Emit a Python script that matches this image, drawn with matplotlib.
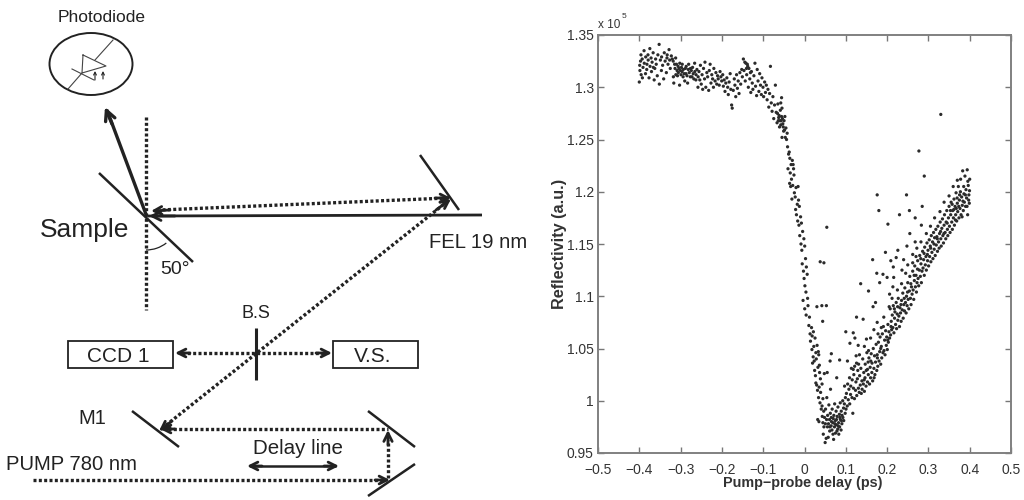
import matplotlib
matplotlib.use('Agg')
import matplotlib.pyplot as plt
from matplotlib.patches import Ellipse, Rectangle, Arc

plt.rcParams['font.family'] = ['Liberation Sans', 'DejaVu Sans']

x_ticks = [-0.5, -0.4, -0.3, -0.2, -0.1, 0, 0.1, 0.2, 0.3, 0.4, 0.5]
x_labels = ['\u22120.5', '\u22120.4', '\u22120.3', '\u22120.2', '\u22120.1', '0', '0.1', '0.2', '0.3', '0.4', '0.5']
y_ticks = [0.95, 1, 1.05, 1.1, 1.15, 1.2, 1.25, 1.3, 1.35]
y_labels = ['0.95', '1', '1.05', '1.1', '1.15', '1.2', '1.25', '1.3', '1.35']

# Scatter, (delay ps, reflectivity / 1e5)
plateau = [
    (-0.400, 1.305), (-0.399, 1.321), (-0.3985, 1.316), (-0.397, 1.325), (-0.396, 1.331), (-0.3955, 1.312),
    (-0.393, 1.327), (-0.3925, 1.309), (-0.391, 1.319), (-0.3885, 1.335), (-0.388, 1.323), (-0.385, 1.313),
    (-0.3845, 1.329), (-0.382, 1.317), (-0.3815, 1.322), (-0.379, 1.331), (-0.3785, 1.326), (-0.3765, 1.309),
    (-0.3745, 1.337), (-0.374, 1.320), (-0.3715, 1.328), (-0.3705, 1.315), (-0.369, 1.324), (-0.3665, 1.333),
    (-0.366, 1.319), (-0.364, 1.307), (-0.3625, 1.318), (-0.3605, 1.327), (-0.359, 1.322), (-0.3565, 1.311),
    (-0.355, 1.331), (-0.352, 1.341), (-0.3515, 1.303), (-0.349, 1.326), (-0.3465, 1.316), (-0.346, 1.329),
    (-0.3435, 1.321), (-0.341, 1.308), (-0.3395, 1.333), (-0.3375, 1.325), (-0.3345, 1.314), (-0.333, 1.328),
    (-0.3325, 1.331), (-0.3305, 1.322), (-0.328, 1.336), (-0.3265, 1.326), (-0.325, 1.318), (-0.3225, 1.330),
    (-0.320, 1.327), (-0.318, 1.325), (-0.3175, 1.310), (-0.3165, 1.304), (-0.3145, 1.322), (-0.3135, 1.318),
    (-0.312, 1.328), (-0.3115, 1.312), (-0.310, 1.322), (-0.3085, 1.316), (-0.3075, 1.311), (-0.306, 1.320),
    (-0.3055, 1.314), (-0.304, 1.318), (-0.3025, 1.302), (-0.302, 1.323), (-0.3005, 1.316), (-0.299, 1.312),
    (-0.298, 1.319), (-0.2965, 1.315), (-0.296, 1.322), (-0.294, 1.310), (-0.2935, 1.317), (-0.2915, 1.313),
    (-0.290, 1.306), (-0.2885, 1.318), (-0.287, 1.313), (-0.2865, 1.320), (-0.2845, 1.311), (-0.283, 1.304),
    (-0.2815, 1.317), (-0.2805, 1.322), (-0.279, 1.314), (-0.2765, 1.310), (-0.276, 1.318), (-0.274, 1.316),
    (-0.2725, 1.310), (-0.271, 1.319), (-0.2695, 1.313), (-0.268, 1.308), (-0.266, 1.323), (-0.2655, 1.315),
    (-0.263, 1.307), (-0.2625, 1.312), (-0.2605, 1.317), (-0.258, 1.300), (-0.2575, 1.310), (-0.2555, 1.315),
    (-0.2535, 1.307), (-0.252, 1.321), (-0.250, 1.303), (-0.248, 1.312), (-0.2465, 1.298), (-0.2445, 1.318),
    (-0.242, 1.308), (-0.241, 1.324), (-0.239, 1.300), (-0.2365, 1.314), (-0.2345, 1.310), (-0.232, 1.297),
    (-0.2305, 1.316), (-0.2285, 1.322), (-0.2265, 1.304), (-0.2245, 1.312), (-0.2225, 1.308), (-0.2205, 1.300),
    (-0.2195, 1.318), (-0.2165, 1.306), (-0.2145, 1.314), (-0.2125, 1.303), (-0.2105, 1.311), (-0.209, 1.308),
    (-0.2065, 1.302), (-0.2045, 1.315), (-0.2025, 1.310), (-0.2005, 1.306), (-0.198, 1.312), (-0.1965, 1.301),
    (-0.1945, 1.307), (-0.1925, 1.296), (-0.1905, 1.304), (-0.188, 1.309), (-0.186, 1.300), (-0.1845, 1.293),
    (-0.1825, 1.305), (-0.180, 1.313), (-0.1785, 1.298), (-0.1765, 1.283), (-0.175, 1.280), (-0.1725, 1.297),
    (-0.170, 1.308), (-0.1685, 1.302), (-0.1665, 1.291), (-0.1645, 1.312), (-0.1625, 1.299), (-0.1605, 1.306),
    (-0.1585, 1.294), (-0.1565, 1.314), (-0.1545, 1.303), (-0.152, 1.317), (-0.1505, 1.310), (-0.148, 1.327),
    (-0.1465, 1.316), (-0.1445, 1.324), (-0.1435, 1.306), (-0.142, 1.323), (-0.1405, 1.318), (-0.140, 1.312),
    (-0.1385, 1.322), (-0.1375, 1.320), (-0.136, 1.300), (-0.1345, 1.318), (-0.1325, 1.308), (-0.131, 1.314),
    (-0.130, 1.295), (-0.1285, 1.315), (-0.1265, 1.304), (-0.125, 1.298), (-0.1225, 1.311), (-0.120, 1.323),
    (-0.1185, 1.301), (-0.116, 1.292), (-0.1145, 1.317), (-0.1125, 1.306), (-0.1105, 1.296), (-0.1085, 1.313),
    (-0.1065, 1.302), (-0.1045, 1.293), (-0.103, 1.309), (-0.1005, 1.300), (-0.099, 1.291), (-0.0965, 1.305),
    (-0.0945, 1.295), (-0.0925, 1.302), (-0.0905, 1.288), (-0.0885, 1.298), (-0.0865, 1.281), (-0.0845, 1.294),
    (-0.0825, 1.320), (-0.0805, 1.285), (-0.0785, 1.277), (-0.0765, 1.291), (-0.0745, 1.270), (-0.0725, 1.283),
    (-0.0705, 1.302), (-0.0685, 1.276), (-0.0665, 1.266), (-0.0645, 1.284), (-0.0625, 1.271), (-0.0605, 1.262),
    (-0.0585, 1.278), (-0.0565, 1.268), (-0.0545, 1.252), (-0.0525, 1.265), (-0.0505, 1.258), (-0.0615, 1.273),
    (-0.0595, 1.268), (-0.0575, 1.264), (-0.0555, 1.272), (-0.0535, 1.270), (-0.0515, 1.262), (-0.0495, 1.268),
    (-0.0655, 1.275), (-0.0635, 1.268), (-0.0575, 1.285), (-0.0555, 1.290), (-0.0545, 1.280), (-0.0485, 1.259),
]
fall = [
    (-0.0475, 1.272), (-0.0465, 1.252), (-0.045, 1.261), (-0.0435, 1.250), (-0.042, 1.256), (-0.0385, 1.236),
    (-0.041, 1.243), (-0.0355, 1.232), (-0.037, 1.238), (-0.0325, 1.226), (-0.040, 1.222), (-0.0295, 1.230),
    (-0.0345, 1.218), (-0.0265, 1.222), (-0.036, 1.208), (-0.0275, 1.226), (-0.0315, 1.212), (-0.0335, 1.205),
    (-0.0255, 1.216), (-0.0285, 1.206), (-0.0305, 1.193), (-0.0205, 1.204), (-0.0245, 1.199), (-0.0225, 1.195),
    (-0.0155, 1.205), (-0.0215, 1.183), (-0.0175, 1.188), (-0.0195, 1.178), (-0.0145, 1.192), (-0.0165, 1.172),
    (-0.0125, 1.186), (-0.0135, 1.168), (-0.0095, 1.176), (-0.0115, 1.158), (-0.0075, 1.170), (-0.0085, 1.150),
    (-0.0045, 1.162), (-0.0065, 1.144), (-0.0015, 1.155), (-0.0055, 1.131), (0.0005, 1.148), (-0.0025, 1.124),
    (0.0025, 1.136), (-0.001, 1.117), (0.0045, 1.128), (0.001, 1.110), (0.0065, 1.121), (-0.0035, 1.096),
    (0.0035, 1.104), (0.0005, 1.088), (0.0075, 1.098), (0.004, 1.082), (0.0085, 1.091), (0.0105, 1.072),
    (0.012, 1.080), (0.0135, 1.064), (0.017, 1.070), (0.0145, 1.057), (0.0215, 1.066), (0.018, 1.049),
    (0.0255, 1.060), (0.021, 1.042), (0.0305, 1.053), (0.0195, 1.036), (0.0335, 1.047), (0.0245, 1.029),
    (0.0285, 1.040), (0.0265, 1.024), (0.036, 1.034), (0.0295, 1.015), (0.0365, 1.027), (0.0315, 1.010),
    (0.0385, 1.021), (0.034, 1.003), (0.0425, 1.016), (0.0375, 0.998), (0.039, 1.008), (0.0405, 0.992),
    (0.0445, 1.002), (0.032, 0.982), (0.035, 0.980), (0.0425, 0.995), (0.0235, 1.038), (0.0275, 1.046),
    (0.0345, 1.044), (0.0325, 1.032), (0.0225, 1.052), (0.0185, 1.062), (0.0275, 1.017), (0.0355, 1.013),
]
bottom = [
    (0.043, 0.985), (0.0445, 0.979), (0.0455, 0.968), (0.0465, 0.990), (0.047, 0.975), (0.0485, 0.984),
    (0.050, 0.960), (0.0505, 0.978), (0.051, 0.992), (0.0525, 0.964), (0.0535, 0.982), (0.054, 1.003),
    (0.0555, 0.975), (0.056, 0.986), (0.0575, 0.965), (0.058, 0.978), (0.059, 0.996), (0.0605, 0.982),
    (0.061, 0.971), (0.0625, 0.988), (0.063, 1.011), (0.0645, 0.976), (0.065, 0.984), (0.0665, 0.972),
    (0.067, 0.992), (0.0685, 0.979), (0.069, 0.968), (0.0705, 0.963), (0.071, 0.986), (0.0725, 0.975),
    (0.073, 0.997), (0.0745, 0.981), (0.075, 0.969), (0.0765, 0.990), (0.077, 0.977), (0.0785, 0.971),
    (0.079, 0.985), (0.0805, 0.973), (0.081, 0.994), (0.0825, 0.979), (0.083, 0.968), (0.0845, 0.987),
    (0.085, 0.975), (0.0865, 0.998), (0.087, 0.982), (0.0885, 0.972), (0.089, 0.990), (0.0905, 0.978),
    (0.091, 0.986), (0.0925, 1.000), (0.093, 0.984), (0.0945, 0.993), (0.095, 0.981), (0.0965, 0.997),
    (0.097, 1.014), (0.0985, 0.988), (0.099, 1.003), (0.1005, 0.992), (0.0615, 0.975), (0.0655, 0.980),
    (0.0695, 0.983), (0.0735, 0.978), (0.0775, 0.982), (0.0815, 0.976), (0.0855, 0.984), (0.0895, 0.981),
]
rise = [
    (0.1015, 1.007), (0.1035, 0.995), (0.1045, 1.016), (0.106, 1.001), (0.1075, 1.011), (0.109, 1.022),
    (0.1095, 0.997), (0.1115, 1.006), (0.112, 1.014), (0.1135, 1.031), (0.115, 1.003), (0.1155, 1.020),
    (0.117, 0.988), (0.1185, 1.012), (0.1195, 1.025), (0.121, 1.002), (0.1215, 1.033), (0.1235, 1.010),
    (0.1245, 1.018), (0.126, 1.036), (0.1265, 1.005), (0.128, 1.021), (0.129, 1.029), (0.1305, 1.012),
    (0.131, 1.035), (0.1325, 1.008), (0.1335, 1.024), (0.135, 1.015), (0.1365, 1.031), (0.1375, 1.007),
    (0.139, 1.019), (0.1395, 1.011), (0.141, 1.040), (0.1425, 1.016), (0.1435, 1.027), (0.145, 1.009),
    (0.1465, 1.022), (0.147, 1.035), (0.149, 1.014), (0.1495, 1.029), (0.151, 1.046), (0.1525, 1.018),
    (0.154, 1.037), (0.1545, 1.025), (0.156, 1.041), (0.1575, 1.016), (0.159, 1.032), (0.160, 1.022),
    (0.1615, 1.045), (0.163, 1.027), (0.1635, 1.036), (0.165, 1.019), (0.1665, 1.050), (0.168, 1.031),
    (0.1695, 1.043), (0.1705, 1.025), (0.172, 1.037), (0.1735, 1.054), (0.175, 1.029), (0.176, 1.044),
    (0.1775, 1.033), (0.179, 1.056), (0.1805, 1.038), (0.182, 1.047), (0.183, 1.061), (0.1845, 1.035),
    (0.186, 1.052), (0.187, 1.041), (0.1885, 1.064), (0.190, 1.046), (0.191, 1.071), (0.1925, 1.048),
    (0.194, 1.058), (0.195, 1.044), (0.1965, 1.067), (0.198, 1.053), (0.199, 1.061), (0.2005, 1.049),
    (0.202, 1.073), (0.203, 1.056), (0.2045, 1.066), (0.206, 1.060), (0.2075, 1.088), (0.2085, 1.063),
    (0.210, 1.076), (0.211, 1.068), (0.2125, 1.082), (0.214, 1.070), (0.215, 1.091), (0.2165, 1.065),
    (0.218, 1.079), (0.219, 1.085), (0.2205, 1.073), (0.222, 1.094), (0.223, 1.069), (0.2245, 1.083),
    (0.226, 1.077), (0.227, 1.098), (0.2285, 1.081), (0.230, 1.071), (0.231, 1.089), (0.2325, 1.084),
    (0.234, 1.076), (0.235, 1.096), (0.2365, 1.087), (0.238, 1.103), (0.239, 1.079), (0.2405, 1.092),
    (0.242, 1.086), (0.243, 1.108), (0.2445, 1.094), (0.246, 1.084), (0.247, 1.100), (0.2485, 1.091),
    (0.250, 1.113), (0.251, 1.097), (0.2525, 1.088), (0.254, 1.105), (0.255, 1.119), (0.2565, 1.098),
    (0.258, 1.092), (0.259, 1.109), (0.2605, 1.102), (0.262, 1.124), (0.263, 1.106), (0.2645, 1.097),
    (0.266, 1.115), (0.267, 1.129), (0.2685, 1.109), (0.270, 1.120), (0.271, 1.104), (0.2725, 1.113),
    (0.274, 1.134), (0.275, 1.117), (0.2765, 1.110), (0.278, 1.125), (0.279, 1.139), (0.2805, 1.119),
    (0.282, 1.131), (0.283, 1.113), (0.2845, 1.124), (0.286, 1.143), (0.287, 1.127), (0.2885, 1.135),
    (0.290, 1.120), (0.291, 1.147), (0.2925, 1.130), (0.294, 1.138), (0.295, 1.125), (0.2965, 1.151),
    (0.298, 1.134), (0.299, 1.144), (0.3005, 1.129), (0.302, 1.154), (0.303, 1.138), (0.3045, 1.148),
    (0.306, 1.133), (0.307, 1.158), (0.3085, 1.142), (0.310, 1.152), (0.311, 1.136), (0.3125, 1.161),
    (0.314, 1.145), (0.315, 1.156), (0.3165, 1.139), (0.318, 1.164), (0.319, 1.149), (0.3205, 1.157),
    (0.322, 1.143), (0.323, 1.167), (0.3245, 1.152), (0.326, 1.146), (0.327, 1.160), (0.3285, 1.171),
    (0.330, 1.155), (0.331, 1.148), (0.3325, 1.165), (0.334, 1.174), (0.335, 1.158), (0.3365, 1.151),
    (0.338, 1.168), (0.339, 1.178), (0.3405, 1.161), (0.342, 1.155), (0.343, 1.171), (0.3445, 1.182),
    (0.346, 1.164), (0.347, 1.158), (0.3485, 1.175), (0.350, 1.186), (0.351, 1.167), (0.3525, 1.161),
    (0.354, 1.178), (0.355, 1.190), (0.3565, 1.171), (0.358, 1.164), (0.359, 1.182), (0.3605, 1.175),
    (0.362, 1.193), (0.363, 1.168), (0.3645, 1.186), (0.366, 1.178), (0.367, 1.199), (0.3685, 1.172),
    (0.370, 1.189), (0.371, 1.181), (0.3725, 1.205), (0.374, 1.175), (0.375, 1.192), (0.3765, 1.184),
    (0.378, 1.212), (0.379, 1.178), (0.3805, 1.195), (0.382, 1.187), (0.383, 1.220), (0.3845, 1.182),
    (0.386, 1.198), (0.387, 1.190), (0.3885, 1.215), (0.390, 1.186), (0.391, 1.202), (0.3925, 1.194),
    (0.394, 1.221), (0.395, 1.178), (0.3965, 1.206), (0.398, 1.197), (0.399, 1.189), (0.400, 1.212),
    (0.3995, 1.201), (0.3975, 1.192), (0.3955, 1.210), (0.3935, 1.186), (0.3895, 1.197), (0.3855, 1.205),
    (0.3815, 1.176), (0.3775, 1.200), (0.3735, 1.186), (0.3695, 1.194), (0.3655, 1.173), (0.3615, 1.183),
    (0.1445, 1.020), (0.1525, 1.030), (0.1605, 1.038), (0.1685, 1.022), (0.1765, 1.041), (0.1845, 1.050),
    (0.2015, 1.058), (0.2095, 1.071), (0.2175, 1.088), (0.2255, 1.090), (0.2335, 1.092), (0.2415, 1.098),
    (0.2495, 1.104), (0.2575, 1.112), (0.2655, 1.120), (0.2735, 1.126), (0.2815, 1.136), (0.2895, 1.141),
    (0.2975, 1.140), (0.3055, 1.146), (0.3135, 1.150), (0.3215, 1.155), (0.3295, 1.162), (0.3375, 1.160),
    (0.3455, 1.170), (0.3535, 1.182), (0.3575, 1.188), (0.3675, 1.184), (0.3755, 1.197), (0.3835, 1.191),
]
stray = [
    (0.330, 1.274), (0.277, 1.239), (0.290, 1.215), (0.247, 1.197), (0.254, 1.182), (0.176, 1.197),
    (0.180, 1.182), (0.285, 1.186), (0.202, 1.169), (0.283, 1.168), (0.230, 1.178), (0.268, 1.175),
    (0.054, 1.166), (0.038, 1.133), (0.047, 1.132), (0.165, 1.135), (0.196, 1.142), (0.222, 1.137),
    (0.209, 1.134), (0.215, 1.128), (0.268, 1.152), (0.255, 1.160), (0.248, 1.148), (0.175, 1.122),
    (0.190, 1.121), (0.182, 1.113), (0.200, 1.118), (0.236, 1.125), (0.214, 1.109), (0.136, 1.112),
    (0.155, 1.105), (0.166, 1.090), (0.126, 1.080), (0.142, 1.078), (0.100, 1.066), (0.118, 1.065),
    (0.122, 1.060), (0.030, 1.090), (0.042, 1.091), (0.053, 1.091), (0.044, 1.076), (0.065, 1.045),
    (0.085, 1.039), (0.055, 1.027), (0.048, 1.026), (0.110, 1.055), (0.130, 1.053), (0.150, 1.059),
    (0.104, 1.038), (0.078, 1.022), (0.062, 1.038), (0.172, 1.094), (0.176, 1.075), (0.186, 1.070),
    (0.206, 1.102), (0.216, 1.118), (0.240, 1.135), (0.226, 1.144), (0.262, 1.140), (0.272, 1.146),
    (0.118, 1.030), (0.125, 1.043), (0.133, 1.044), (0.145, 1.052), (0.155, 1.048), (0.160, 1.060),
    (0.168, 1.068), (0.178, 1.064), (0.192, 1.080), (0.205, 1.090), (0.212, 1.098), (0.225, 1.106),
    (0.235, 1.112), (0.245, 1.122), (0.250, 1.130), (0.262, 1.132), (0.270, 1.138), (0.282, 1.152),
    (0.295, 1.160), (0.305, 1.167), (0.315, 1.175), (0.328, 1.181), (0.338, 1.190), (0.350, 1.196),
    (0.360, 1.205), (0.370, 1.211),
]

fig = plt.figure(figsize=(10.24, 5), dpi=100)

# Setup sketch on the left, laid out in picture pixels.
sk = fig.add_axes([0, 0, 1, 1])
sk.set_xlim(0, 1024)
sk.set_ylim(500, 0)
sk.axis('off')
ink = '#222222'
dots = (0, (0.9, 0.7))


def solid(x, y, lw=2.0):
    sk.plot(x, y, color=ink, lw=lw, solid_capstyle='butt')


def dotted(x, y):
    sk.plot(x, y, color=ink, lw=2.4, linestyle=dots)


def head(tail, tip, lw=2.0, size=15):
    sk.annotate('', xy=tip, xytext=tail, arrowprops=dict(arrowstyle='->', color=ink, lw=lw,
                mutation_scale=size, shrinkA=0, shrinkB=0))


sk.add_patch(Ellipse((91, 64), 83, 62, fill=False, ec=ink, lw=1.4))
sk.plot([83, 106, 82, 83], [55, 66, 73, 55], color='#444444', lw=0.8)
sk.plot([113, 95], [40, 60], color='#444444', lw=0.8)
sk.plot([82, 68], [73, 89], color='#444444', lw=0.8)
sk.plot([72, 94], [69, 80], color='#444444', lw=0.8)
head((95, 80), (95, 71), lw=0.8, size=5)
head((103, 79), (103, 71), lw=0.8, size=5)

solid([147, 107], [217, 110], lw=2.4)
head((112, 124), (105, 107), lw=2.4, size=18)
solid([99, 193], [173, 262], lw=1.8)
dotted([146, 146], [117, 310])
sk.add_patch(Arc((146, 217), 66, 66, theta1=52, theta2=90, ec=ink, lw=0.9))

solid([482, 148], [215, 216], lw=2.0)
head((175, 216), (149, 216), size=16)
dotted([448, 160], [198, 210])
head((170, 210), (151, 211), size=14)
head((435, 198), (451, 198), size=14)
solid([420, 459], [155, 210], lw=1.8)

dotted([448, 165], [201, 426])
head((436, 210), (451, 199), size=14)
head((172, 421), (159, 431), size=14)

sk.add_patch(Rectangle((68, 341), 105, 27, fill=False, ec=ink, lw=1.3))
sk.add_patch(Rectangle((333, 341), 85, 27, fill=False, ec=ink, lw=1.3))
solid([256, 256], [328, 380], lw=2.2)
dotted([182, 325], [353, 353])
head((190, 353), (175, 353), size=14)
head((316, 353), (332, 353), size=14)

solid([132, 179], [411, 447], lw=1.8)
solid([368, 415], [411, 447], lw=1.8)
solid([415, 368], [464, 496], lw=1.8)
dotted([168, 388], [429, 429])
head((175, 429), (160, 429), size=14)
dotted([388, 388], [478, 440])
head((388, 445), (388, 430), size=15)
dotted([33, 384], [480, 480])
head((375, 480), (390, 480), size=14)
solid([250, 336], [466, 466], lw=1.8)
head((262, 466), (247, 466), size=14)
head((324, 466), (339, 466), size=14)

sk.text(102, 17, 'Photodiode', fontsize=12.5, color=ink, ha='center', va='center')
sk.text(40, 230, 'Sample', fontsize=19, color=ink, ha='left', va='center')
sk.text(160, 269, '50\u00b0', fontsize=14, color=ink, ha='left', va='center')
sk.text(429, 243, 'FEL 19 nm', fontsize=14.6, color=ink, ha='left', va='center')
sk.text(256, 313, 'B.S', fontsize=13, color=ink, ha='center', va='center')
sk.text(118, 356, 'CCD 1', fontsize=15, color=ink, ha='center', va='center')
sk.text(373, 356, 'V.S.', fontsize=15, color=ink, ha='center', va='center')
sk.text(92, 418, 'M1', fontsize=14.5, color=ink, ha='center', va='center')
sk.text(298, 448, 'Delay line', fontsize=14.8, color=ink, ha='center', va='center')
sk.text(6, 465, 'PUMP 780 nm', fontsize=14.6, color=ink, ha='left', va='center')

# Measured trace on the right.
ax = fig.add_axes([598 / 1024, 1 - 453 / 500, 413 / 1024, 418 / 500])
for part in (plateau, fall, bottom, rise, stray):
    ax.scatter([p[0] for p in part], [p[1] for p in part], s=5.5, c='#2b2b2b', edgecolor='none')

ax.set_xlim(-0.5, 0.5)
ax.set_ylim(0.95, 1.35)
ax.set_xticks(x_ticks)
ax.set_xticklabels(x_labels, fontsize=10, color='#333333')
ax.set_yticks(y_ticks)
ax.set_yticklabels(y_labels, fontsize=10, color='#333333')
ax.tick_params(direction='in', length=4, width=1, color='#777777', top=True, right=True, pad=3)
ax.tick_params(axis='x', pad=7)
for side in ax.spines.values():
    side.set_color('#808080')
    side.set_linewidth(1.4)
ax.set_xlabel('Pump\u2212probe delay (ps)', fontsize=10.4, fontweight='bold', color='#333333')
ax.xaxis.set_label_coords((803 - 598) / 413, -(476 - 453) / 418)
ax.set_ylabel('Reflectivity (a.u.)', fontsize=11.7, fontweight='bold', color='#333333')
ax.yaxis.set_label_coords((567 - 598) / 413, (453 - 243.5) / 418)
sk.text(598, 25, 'x 10', fontsize=8.5, color='#333333', ha='left', va='center')
sk.text(622, 16, '5', fontsize=6, color='#333333', ha='left', va='center')

fig.savefig('out.png', dpi=100)
